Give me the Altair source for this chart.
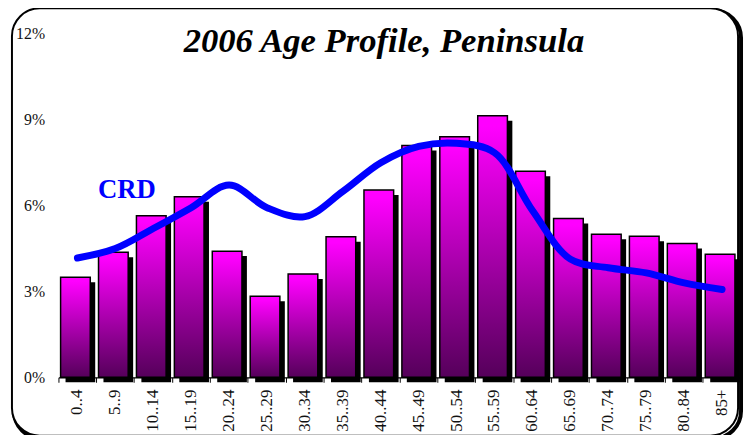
import altair as alt
import pandas as pd

ages = ["0..4", "5..9", "10..14", "15..19", "20..24", "25..29", "30..34", "35..39",
        "40..44", "45..49", "50..54", "55..59", "60..64", "65..69", "70..74", "75..79",
        "80..84", "85+"]
peninsula = [3.5, 4.37, 5.65, 6.31, 4.41, 2.83, 3.61, 4.91, 6.55, 8.1, 8.41, 9.14,
             7.2, 5.55, 5.0, 4.93, 4.68, 4.3]
crd = [4.17, 4.5, 5.2, 5.93, 6.72, 5.93, 5.62, 6.5, 7.5, 8.07, 8.18, 7.85, 5.83,
       4.13, 3.83, 3.65, 3.3, 3.07]
y_ticks = [0, 3, 6, 9, 12]

df = pd.DataFrame({"age": ages, "pen": peninsula, "crd": crd})

W, H = 690, 347
serif = "Liberation Serif"

x = alt.X("age:N", sort=ages,
          scale=alt.Scale(paddingInner=0, paddingOuter=0),
          axis=alt.Axis(title=None, labelAngle=-90, labelAlign="right",
                        labelBaseline="middle", labelFont=serif, labelFontSize=17,
                        labelColor="#111", labelPadding=7, ticks=True, tickSize=5,
                        tickColor="#000", tickWidth=1, bandPosition=0,
                        domainColor="#000", domainWidth=1.2, grid=False, zindex=1))
y = alt.Y("pen:Q", scale=alt.Scale(domain=[0, 12], nice=False),
          axis=alt.Axis(title=None, values=y_ticks, labelExpr="datum.value + '%'",
                        labelFont=serif, labelFontSize=16, labelColor="#111",
                        labelPadding=14, ticks=False, domain=False, grid=False,
                        zindex=1))

one = alt.Data(values=[{}])

shadow_border = alt.Chart(one).mark_rect(
    fill=None, stroke="#000", strokeWidth=4, cornerRadius=28
).encode(x=alt.value(-45), x2=alt.value(690), y=alt.value(-24), y2=alt.value(409))

border = alt.Chart(one).mark_rect(
    fill="white", stroke="#000", strokeWidth=2, cornerRadius=28
).encode(x=alt.value(-47), x2=alt.value(687), y=alt.value(-26), y2=alt.value(406))

base = alt.Chart(df)

shadow = base.mark_bar(color="#000", width=30, xOffset=3, yOffset=5).encode(x=x, y=y)

grad = alt.Gradient(gradient="linear", x1=0, x2=0, y1=0, y2=1,
                    stops=[alt.GradientStop(color="#FF00FF", offset=0),
                           alt.GradientStop(color="#FF00FF", offset=0.04),
                           alt.GradientStop(color="#55005A", offset=1)])
bars = base.mark_bar(fill=grad, stroke="#000", strokeWidth=1.5, width=30,
                     xOffset=-2).encode(x=x, y=y)

line = base.mark_line(color="#0000FF", strokeWidth=7, interpolate="catmull-rom",
                      strokeCap="round").encode(x=x, y=alt.Y("crd:Q"))

title = alt.Chart(one).mark_text(
    text="2006 Age Profile, Peninsula", font=serif, fontSize=35, fontWeight="bold",
    fontStyle="italic", align="center", baseline="alphabetic", color="#000"
).encode(x=alt.value(329), y=alt.value(18))

crd_label = alt.Chart(one).mark_text(
    text="CRD", font=serif, fontSize=27, fontWeight="bold", align="left",
    baseline="alphabetic", color="#0000FF"
).encode(x=alt.value(40), y=alt.value(166))

chart = alt.layer(shadow_border, border, shadow, bars, line, title, crd_label).properties(
    width=W, height=H,
    autosize=alt.AutoSizeParams(type="none"),
    padding={"left": 51, "top": 24, "right": 3, "bottom": 56},
).configure_view(stroke=None)

chart.save("out.html", embed_options={"renderer": "svg", "actions": False})
